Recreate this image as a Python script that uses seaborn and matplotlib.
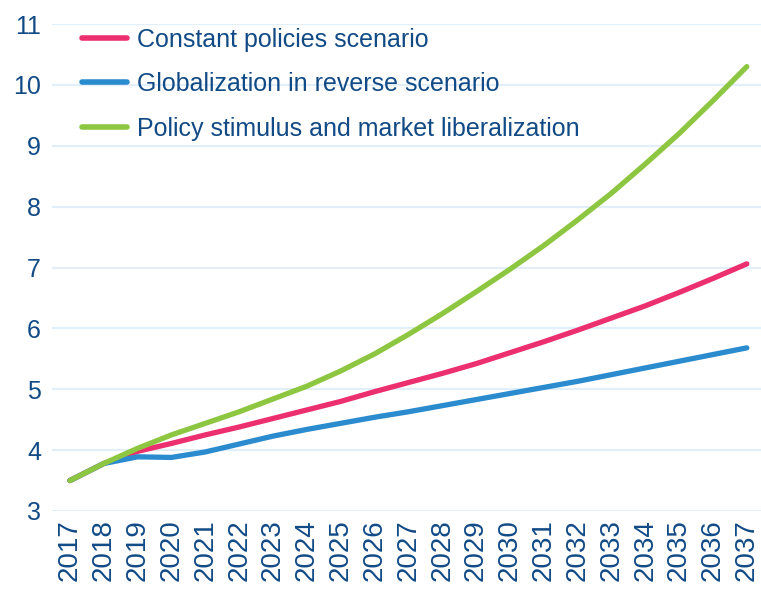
"""Scenario projections 2017-2037, three policy paths"""

import matplotlib
matplotlib.use("Agg")
import matplotlib.pyplot as plt
import pandas as pd
import seaborn as sns

years = list(range(2017, 2038))

constant = [3.50, 3.78, 3.98, 4.11, 4.25, 4.38, 4.52, 4.66, 4.80, 4.96, 5.11,
            5.26, 5.42, 5.60, 5.78, 5.97, 6.17, 6.37, 6.59, 6.82, 7.06]
reverse = [3.50, 3.78, 3.89, 3.88, 3.97, 4.10, 4.23, 4.34, 4.44, 4.54, 4.63,
           4.73, 4.83, 4.93, 5.03, 5.13, 5.24, 5.35, 5.46, 5.57, 5.68]
stimulus = [3.50, 3.78, 4.03, 4.25, 4.44, 4.63, 4.84, 5.05, 5.30, 5.58, 5.90,
            6.24, 6.60, 6.97, 7.36, 7.78, 8.22, 8.70, 9.20, 9.74, 10.30]

labels = ["Constant policies scenario",
          "Globalization in reverse scenario",
          "Policy stimulus and market liberalization"]
colors = ["#EC2F6F", "#2A8BCF", "#8DC641"]
text_color = "#114A85"

df = pd.DataFrame({"year": years, labels[0]: constant,
                   labels[1]: reverse, labels[2]: stimulus})
long = df.melt(id_vars="year", var_name="scenario", value_name="value")

sns.set_style("white")
plt.rcParams['font.family'] = ['Liberation Sans', 'DejaVu Sans']

fig = plt.figure(figsize=(7.61, 6.0), dpi=100)
ax = fig.add_axes([52 / 761, 89 / 600, 709 / 761, 487 / 600])

sns.lineplot(data=long, x="year", y="value", hue="scenario",
             hue_order=labels, palette=colors, linewidth=3.8,
             solid_capstyle="round", ax=ax)

ax.set_xlim(2016.47, 2037.42)
ax.set_ylim(3, 11)
ax.set_yticks(range(3, 12))
ax.set_xticks(years)
ax.set_xticklabels([str(y) for y in years], rotation=90)
ax.grid(axis="y", color="#E2EEF8", linewidth=1.6)
ax.grid(axis="x", visible=False)
ax.set_axisbelow(True)
for s in ax.spines.values():
    s.set_visible(False)
ax.tick_params(axis="both", length=0, colors=text_color)
ax.tick_params(axis="y", labelsize=18, pad=8)
ax.tick_params(axis="x", labelsize=20, pad=6)
ax.set_xlabel("")
ax.set_ylabel("")

leg = ax.legend(loc="upper left", bbox_to_anchor=(0.028, 1.013), frameon=False,
                fontsize=18, handlelength=1.8, handletextpad=0.4,
                labelspacing=0.82, borderaxespad=0.0)
for t in leg.get_texts():
    t.set_color(text_color)
for h in leg.get_lines():
    h.set_linewidth(4)
    h.set_solid_capstyle("round")

fig.savefig("out.png", dpi=100)
